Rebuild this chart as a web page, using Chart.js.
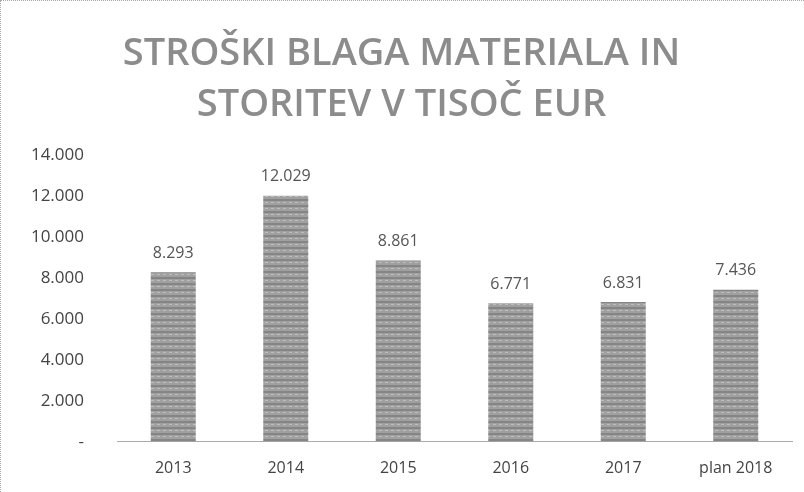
<!DOCTYPE html>
<html>
<head>
<meta charset="utf-8">
<script src="https://cdn.jsdelivr.net/npm/chart.js@4"></script>
<style>
  html, body { margin: 0; padding: 0; background: #fff; }
  .wrap {
    position: relative; width: 804px; height: 492px; box-sizing: border-box;
    border-top: 1px dotted #aaa; border-left: 1px dotted #aaa; margin-left: 0;
  }
</style>
</head>
<body>
<div class="wrap"><canvas id="chart" width="803" height="491"></canvas></div>
<script>
const years = ['2013', '2014', '2015', '2016', '2017', 'plan 2018']
const costs = [8293, 12029, 8861, 6771, 6831, 7436]
const yTicks = [0, 2000, 4000, 6000, 8000, 10000, 12000, 14000]
const titleLines = ['STROŠKI BLAGA MATERIALA IN', 'STORITEV V TISOČ EUR']

const fmt = v => v === 0 ? '-' : v.toLocaleString('de-DE')

// scanned-looking grey fill
function barPattern() {
  const c = document.createElement('canvas')
  c.width = 6
  c.height = 6
  const g = c.getContext('2d')
  g.fillStyle = '#a0a0a0'
  g.fillRect(0, 0, 6, 6)
  g.fillStyle = '#858585'
  g.fillRect(0, 0, 6, 2)
  g.fillStyle = '#bdbdbd'
  g.fillRect(0, 3, 3, 1)
  return g.createPattern(c, 'repeat')
}

const valueLabels = {
  id: 'valueLabels',
  afterDatasetsDraw(chart) {
    const ctx = chart.ctx
    const meta = chart.getDatasetMeta(0)
    ctx.save()
    ctx.font = '16px "Open Sans", sans-serif'
    ctx.fillStyle = '#555'
    ctx.textAlign = 'center'
    ctx.textBaseline = 'bottom'
    meta.data.forEach((bar, i) => {
      ctx.fillText(fmt(costs[i]), bar.x, bar.y - 11)
    })
    ctx.restore()
  }
}

new Chart(document.getElementById('chart'), {
  type: 'bar',
  data: {
    labels: years,
    datasets: [{
      data: costs,
      backgroundColor: barPattern(),
      barPercentage: 0.4,
      categoryPercentage: 1
    }]
  },
  options: {
    responsive: false,
    animation: false,
    layout: { padding: { left: 10, right: 12, top: 0, bottom: 5 } },
    plugins: {
      legend: { display: false },
      tooltip: { enabled: false },
      title: {
        display: true,
        text: titleLines,
        color: '#8c8c8c',
        font: { size: 38, weight: '600', family: '"Open Sans", sans-serif', lineHeight: 1.36 },
        padding: { top: 27, bottom: 24 }
      }
    },
    scales: {
      x: {
        grid: { display: false },
        border: { display: true, color: '#aaa', dash: [2, 2], width: 1 },
        ticks: {
          color: '#444',
          padding: 9,
          font: { size: 16, family: '"Open Sans", sans-serif' }
        }
      },
      y: {
        min: 0,
        max: 14000,
        afterBuildTicks: axis => { axis.ticks = yTicks.map(v => ({ value: v })) },
        afterFit: axis => { axis.width = 106 },
        grid: { display: false },
        border: { display: false },
        ticks: {
          color: '#444',
          padding: 25,
          callback: v => fmt(v),
          font: { size: 17, family: '"Open Sans", sans-serif' }
        }
      }
    }
  },
  plugins: [valueLabels]
})
</script>
</body>
</html>
